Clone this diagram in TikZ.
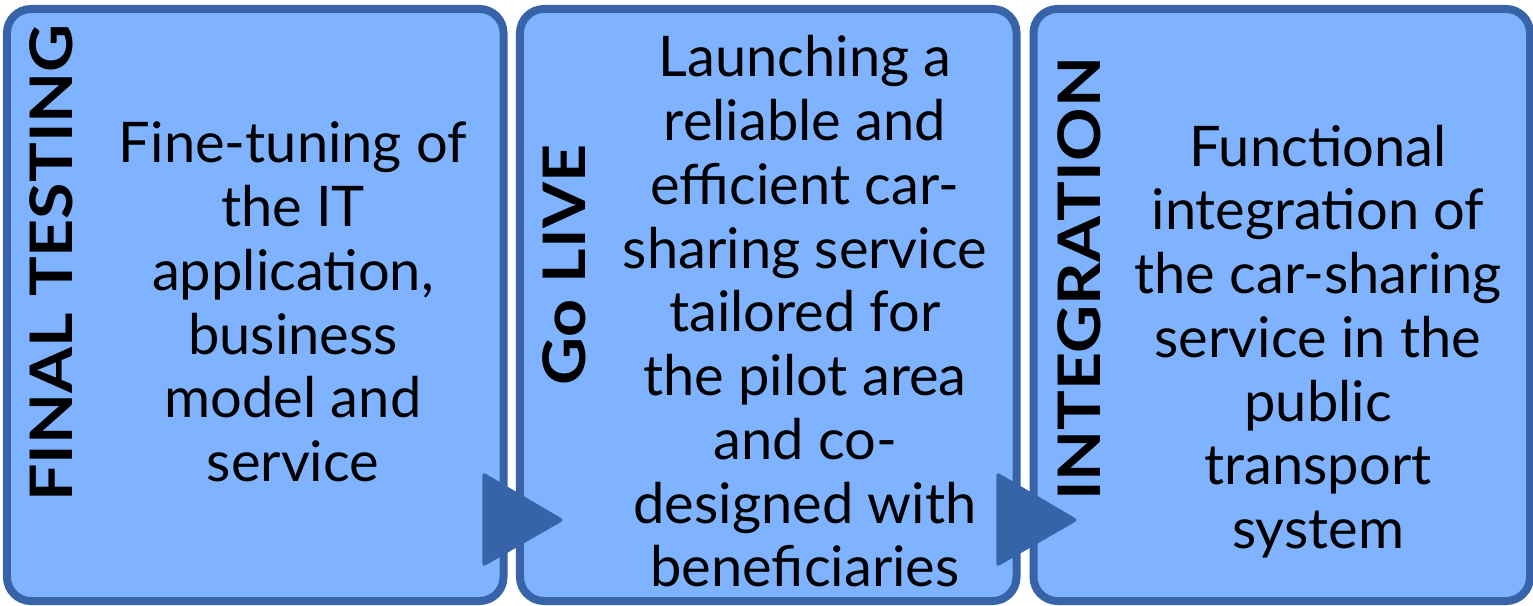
\documentclass[tikz,border=0pt]{standalone}
\usepackage{fontspec}
\setmainfont{Lato}
\definecolor{boxfill}{HTML}{80B3FF}
\definecolor{boxline}{HTML}{3764A8}
\newcommand{\widelabel}[1]{\scalebox{1.13}[1.0]{#1}}
\begin{document}
\begin{tikzpicture}[x=0.75pt,y=-0.75pt,
  stage/.style={draw=boxline, fill=boxfill, line width=6pt, rounded corners=18pt,
    minimum width=372.4pt, minimum height=444pt, inner sep=0pt},
  arrowtri/.style={fill=boxline, draw=boxline, line width=1pt, rounded corners=2pt},
  body/.style={align=center, inner sep=0pt, font=\fontsize{42}{47.8}\selectfont},
  phase/.style={rotate=90, inner sep=0pt, font=\fontsize{44}{50}\selectfont\bfseries}]
\useasboundingbox (0,0) rectangle (1533,606);
\node[stage] (b1) at (255.25,305) {};
\node[stage] (b2) at (768.25,305) {};
\node[stage] (b3) at (1281.75,305) {};
\coordinate (t1a) at (483,473);
\coordinate (t1b) at (563,520);
\coordinate (t1c) at (483,566);
\coordinate (t2a) at (997,473);
\coordinate (t2b) at (1077,520);
\coordinate (t2c) at (997,566);
\path[arrowtri] (t1a) -- (t1b) -- (t1c) -- cycle;
\path[arrowtri] (t2a) -- (t2b) -- (t2c) -- cycle;
\node[phase] (l1) at (51,263) {\widelabel{FINAL TESTING}};
\node[phase] (l2) at (564,265) {\widelabel{Go LIVE}};
\node[phase] (l3) at (1079,279) {\widelabel{INTEGRATION}};
\node[body] (x1) at (293,302) {Fine-tuning of\\the IT\\application,\\business\\model and\\service};
\node[body] (x2) at (805,311.5) {Launching a\\reliable and\\efficient car-\\sharing service\\tailored for\\the pilot area\\and co-\\designed with\\beneficiaries};
\node[body] (x3) at (1318,341.5) {Functional\\integration of\\the car-sharing\\service in the\\public\\transport\\system};
\end{tikzpicture}
\end{document}
